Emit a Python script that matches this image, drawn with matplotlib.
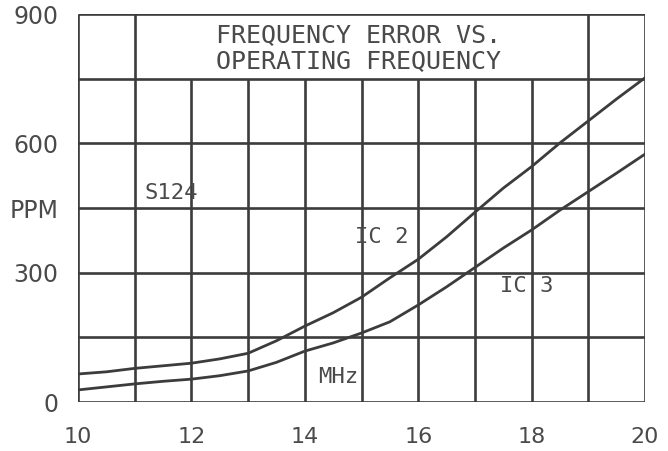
import numpy as np
from matplotlib import pyplot as plt

freq = [10, 10.5, 11, 11.5, 12, 12.5, 13, 13.5, 14, 14.5, 15,
        15.5, 16, 16.5, 17, 17.5, 18, 18.5, 19, 19.5, 20]
ic2 = [65, 70, 78, 84, 90, 100, 113, 142, 176, 207, 243,
       288, 331, 383, 440, 496, 546, 601, 652, 703, 752]
ic3 = [28, 35, 42, 48, 53, 61, 72, 92, 118, 137, 160,
       186, 225, 267, 312, 357, 399, 445, 488, 531, 575]

xticks = [10, 12, 14, 16, 18, 20]
yticks = [0, 300, 450, 600, 900]
ylabels = ["0", "300", "PPM", "600", "900"]
hgrid = [0, 150, 300, 450, 600, 750, 900]
vgrid_full = [10, 11, 19, 20]
vgrid_short = [12, 13, 14, 15, 16, 17, 18]

ink = "#3c3c3c"
txt = "#4a4a4a"

fig = plt.figure(figsize=(6.68, 4.51), dpi=100)
ax = fig.add_axes([78/668, 1 - 402/451, (645 - 78)/668, (402 - 14)/451])

ax.hlines(hgrid, 10, 20, color=ink, lw=1.9)
ax.vlines(vgrid_full, 0, 900, color=ink, lw=1.9)
ax.vlines(vgrid_short, 0, 750, color=ink, lw=1.9)

ax.plot(freq, ic2, color=ink, lw=2.0)
ax.plot(freq, ic3, color=ink, lw=2.0)

mono = "DejaVu Sans Mono"
ax.text(14.95, 820, "FREQUENCY ERROR VS.\nOPERATING FREQUENCY", ha="center",
        va="center", family=mono, fontsize=18, color=txt, linespacing=1.1)
ax.text(11.18, 485, "S124", family=mono, fontsize=16, color=txt, va="center")
ax.text(14.89, 383, "IC 2", family=mono, fontsize=16, color=txt, va="center")
ax.text(17.44, 268, "IC 3", family=mono, fontsize=16, color=txt, va="center")
ax.text(14.23, 58, "MHz", family=mono, fontsize=16, color=txt, va="center")

ax.set_xlim(10, 20)
ax.set_ylim(0, 900)
ax.set_xticks(xticks)
ax.set_yticks(yticks, ylabels)
ax.tick_params(length=0, labelsize=17, labelcolor=txt, pad=14)
ax.tick_params(axis="x", labelsize=16, pad=18)
for s in ax.spines.values():
    s.set_visible(False)

fig.savefig("out.png", dpi=100)
